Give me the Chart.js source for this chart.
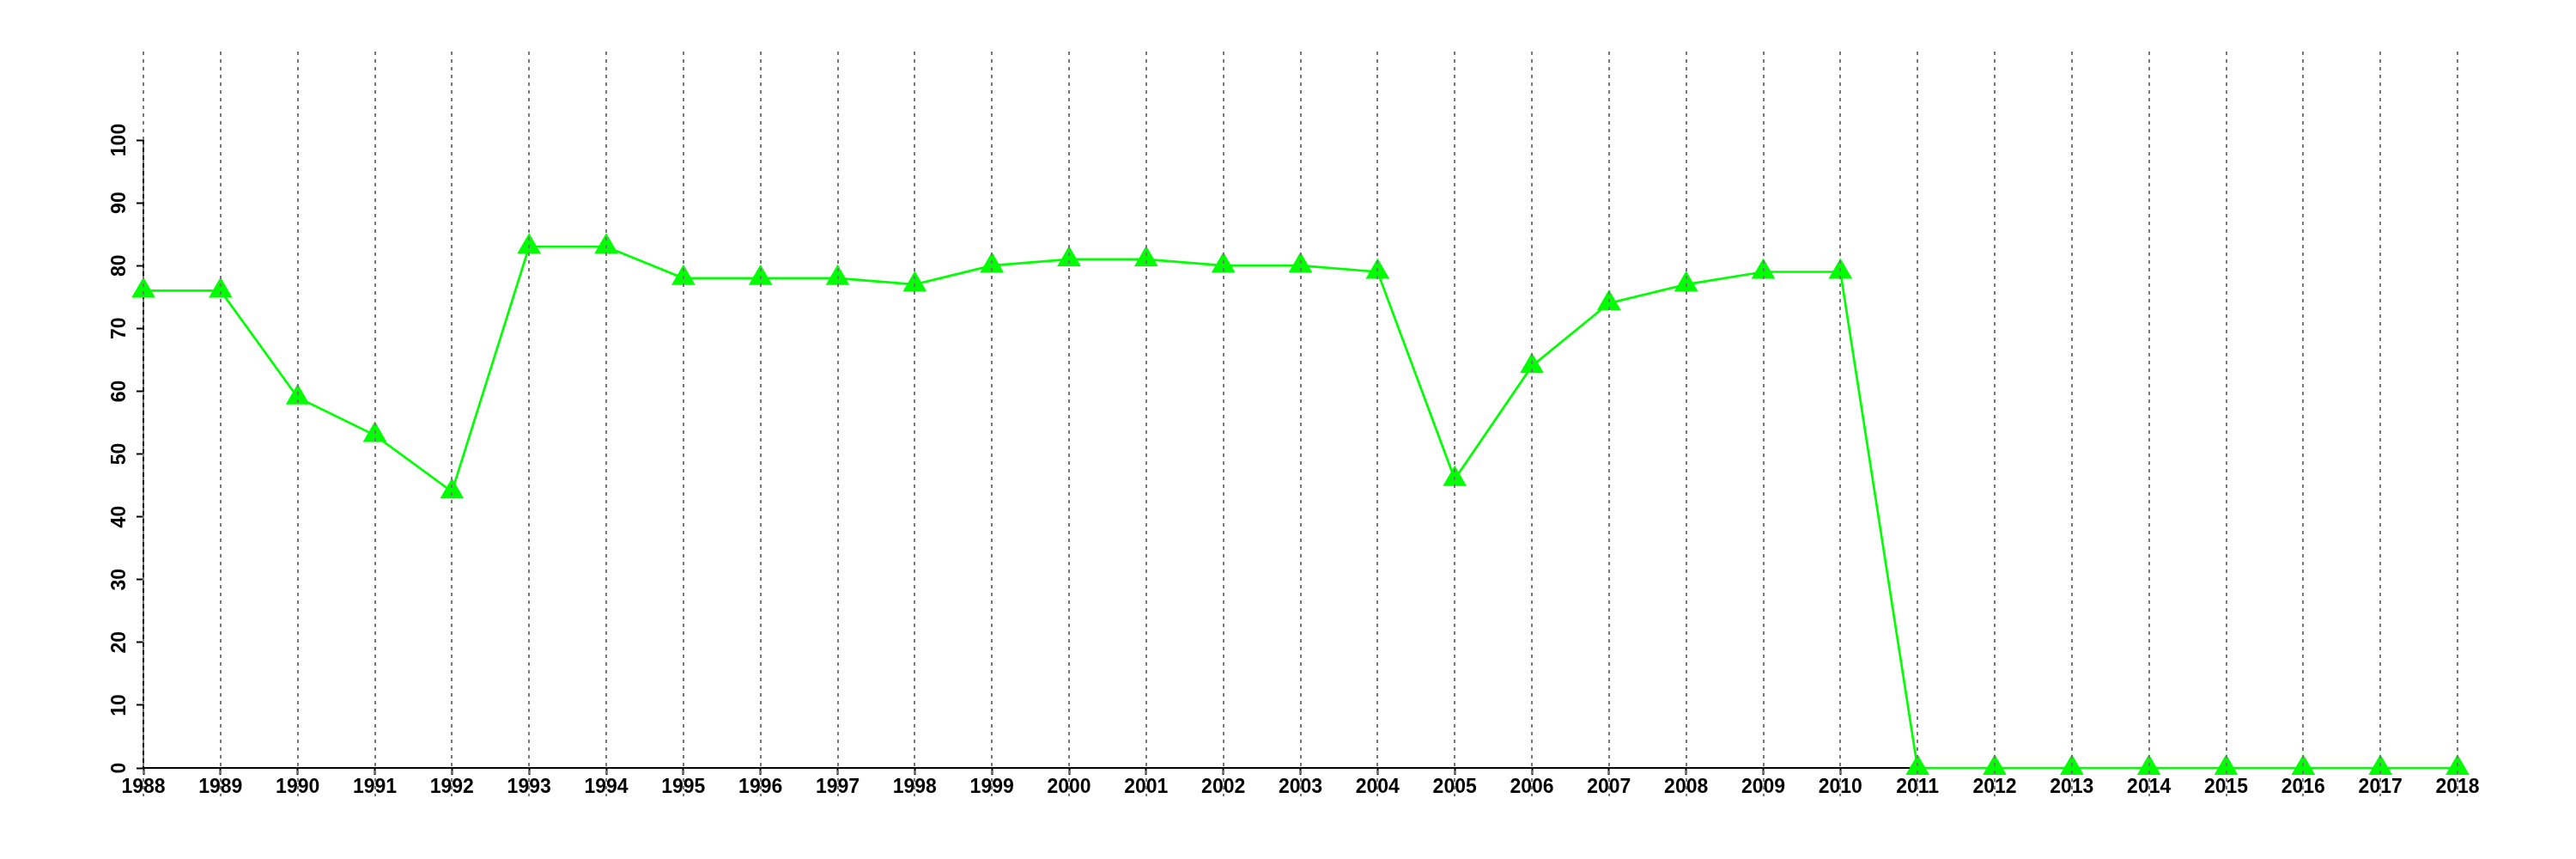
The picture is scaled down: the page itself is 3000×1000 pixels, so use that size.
<!DOCTYPE html>
<html>
<head>
<meta charset="utf-8">
<script src="https://cdn.jsdelivr.net/npm/chart.js@4/dist/chart.umd.min.js"></script>
<style>
  html, body { margin: 0; padding: 0; background: #fff; }
  #wrap { width: 3000px; height: 1000px; }
</style>
</head>
<body>
<div id="wrap"><canvas id="chart"></canvas></div>
<script>
const years = ['1988', '1989', '1990', '1991', '1992', '1993', '1994', '1995', '1996', '1997',
    '1998', '1999', '2000', '2001', '2002', '2003', '2004', '2005', '2006', '2007',
    '2008', '2009', '2010', '2011', '2012', '2013', '2014', '2015', '2016', '2017', '2018'];
const values = [76, 76, 59, 53, 44, 83, 83, 78, 78, 78,
    77, 80, 81, 81, 80, 80, 79, 46, 64, 74,
    77, 79, 79, 0, 0, 0, 0, 0, 0, 0, 0];
const yTicks = [0, 10, 20, 30, 40, 50, 60, 70, 80, 90, 100];

// dotted vertical lines, drawn over the points like the original
const dottedGrid = {
    id: 'dottedGrid',
    afterDatasetsDraw(chart) {
        const ctx = chart.ctx;
        const x = chart.scales.x;
        ctx.save();
        ctx.strokeStyle = '#777777';
        ctx.lineWidth = 2;
        ctx.setLineDash([4, 5]);
        x.ticks.forEach((t, i) => {
            const px = Math.round(x.getPixelForTick(i));
            ctx.beginPath();
            ctx.moveTo(px, 60);
            ctx.lineTo(px, 927);
            ctx.stroke();
        });
        ctx.restore();
    }
};

new Chart(document.getElementById('chart').getContext('2d'), {
    type: 'line',
    data: {
        labels: years,
        datasets: [{
            data: values,
            borderColor: '#00ff00',
            borderWidth: 2.7,
            pointStyle: 'triangle',
            pointRadius: 16,
            pointHoverRadius: 16,
            pointBackgroundColor: '#00ff00',
            pointBorderWidth: 0,
            tension: 0,
            clip: false
        }]
    },
    options: {
        responsive: true,
        maintainAspectRatio: false,
        animation: false,
        events: [],
        layout: { padding: { top: 163, right: 138, bottom: 66, left: 0 } },
        plugins: { legend: { display: false }, tooltip: { enabled: false } },
        scales: {
            x: {
                z: 1,
                offset: false,
                grid: {
                    drawOnChartArea: false,
                    drawTicks: true,
                    tickLength: 8,
                    tickColor: '#000',
                    tickWidth: 2
                },
                border: { display: true, color: '#000', width: 2 },
                ticks: {
                    color: '#000',
                    font: { family: 'Liberation Sans', size: 23, weight: 'bold' },
                    padding: 1,
                    autoSkip: false,
                    maxRotation: 0,
                    minRotation: 0
                },
                afterFit(scale) { scale.height = 40; }
            },
            y: {
                z: 1,
                min: 0,
                max: 100,
                afterBuildTicks(scale) { scale.ticks = yTicks.map(v => ({ value: v })); },
                grid: {
                    drawOnChartArea: false,
                    drawTicks: true,
                    tickLength: 8,
                    tickColor: '#000',
                    tickWidth: 2
                },
                border: { display: true, color: '#000', width: 2 },
                ticks: {
                    color: '#000',
                    font: { family: 'Liberation Sans', size: 23, weight: 'bold' },
                    padding: 0,
                    crossAlign: 'center',
                    minRotation: 90,
                    maxRotation: 90
                },
                afterFit(scale) { scale.width = 167; }
            }
        }
    },
    plugins: [dottedGrid]
});
</script>
</body>
</html>
